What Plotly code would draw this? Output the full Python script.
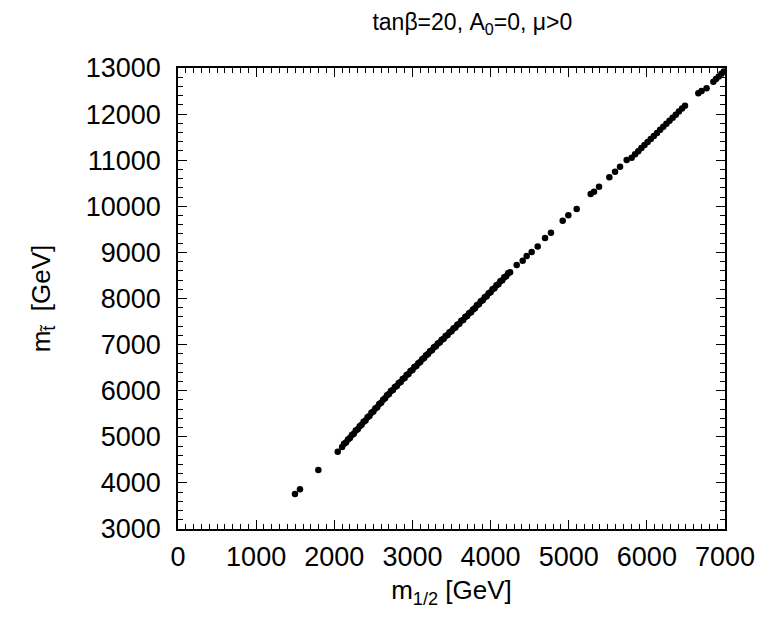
import plotly.graph_objects as go

# isolated low-mass points
x_low = [1497, 1561, 1796, 2044]
y_low = [3759, 3861, 4280, 4677]

# dense band
x_dense = [2100, 2150, 2200, 2250, 2300, 2350, 2400, 2450, 2500, 2550, 2600, 2650, 2700,
           2750, 2800, 2850, 2900, 2950, 3000, 3050, 3100, 3150, 3200, 3250,
           3300, 3350, 3400, 3450, 3500, 3550, 3600, 3650, 3700, 3750,
           3800, 3850, 3900, 3950, 4000, 4050, 4100, 4150, 4200, 4250]
y_dense = [4780, 4876, 4972, 5067, 5163, 5259, 5355, 5451, 5547, 5642, 5738, 5834, 5930,
           6016, 6103, 6189, 6275, 6362, 6448, 6535, 6621, 6707, 6794, 6880,
           6962, 7044, 7126, 7208, 7290, 7372, 7454, 7536, 7618, 7700,
           7787, 7874, 7961, 8048, 8135, 8222, 8309, 8396, 8483, 8570]

# dense band, in-between scan points
x_dense2 = [2125, 2175, 2225, 2275, 2325, 2375, 2425, 2475, 2525, 2575, 2625, 2675,
            2725, 2775, 2825, 2875, 2925, 2975, 3025, 3075, 3125, 3175, 3225,
            3275, 3325, 3375, 3425, 3475, 3525, 3575, 3625, 3675, 3725,
            3775, 3825, 3875, 3925, 3975, 4025, 4075, 4125, 4175, 4225]
y_dense2 = [4848, 4944, 5040, 5135, 5231, 5327, 5423, 5519, 5615, 5710, 5806, 5902,
            5993, 6080, 6166, 6252, 6339, 6425, 6512, 6598, 6684, 6771, 6857,
            6941, 7023, 7105, 7187, 7269, 7351, 7433, 7515, 7597, 7679,
            7764, 7851, 7938, 8025, 8112, 8199, 8286, 8373, 8460, 8547]

# sparse mid points
x_mid = [4334, 4411, 4462, 4526, 4603, 4697, 4773, 4923, 4995, 5102, 5281, 5324, 5388,
         5520, 5593, 5657, 5742, 5806, 5849]
y_mid = [8727, 8820, 8922, 9009, 9130, 9310, 9428, 9688, 9805, 9941, 10267, 10317, 10426,
         10629, 10751, 10859, 11004, 11054, 11128]

# upper band
x_high = [5890, 5930, 5970, 6010, 6050, 6090, 6130, 6170, 6210, 6250, 6290, 6330, 6370,
          6410, 6450, 6488, 6659, 6700, 6764, 6851, 6885, 6920, 6955, 6985, 7013]
y_high = [11196, 11262, 11328, 11394, 11460, 11526, 11592, 11658, 11724, 11790, 11856, 11922, 11988,
          12054, 12120, 12182, 12451, 12500, 12560, 12703, 12760, 12815, 12875, 12925, 12972]

x_all = x_low + x_dense + x_dense2 + x_mid + x_high
y_all = y_low + y_dense + y_dense2 + y_mid + y_high

FONT = "Liberation Sans"

fig = go.Figure()
fig.add_trace(go.Scatter(x=x_all, y=y_all, mode="markers",
                         marker=dict(size=6.5, color="black", line=dict(width=0)),
                         cliponaxis=False, showlegend=False))

axis_common = dict(showgrid=False, zeroline=False, showline=True, linecolor="black",
                   linewidth=1.5, mirror="allticks", ticks="inside", ticklen=9,
                   tickwidth=1.2, tickcolor="black", tickformat="d",
                   tickfont=dict(family=FONT, size=27, color="black"))

fig.update_xaxes(range=[0, 7000], dtick=1000, tick0=0,
                 minor=dict(dtick=100, ticks="inside", ticklen=5, tickwidth=1, tickcolor="black"),
                 title=dict(text="m<sub>1/2</sub> [GeV]", font=dict(family=FONT, size=26, color="black"),
                            standoff=10),
                 ticklabelstandoff=3,
                 **axis_common)
fig.update_yaxes(range=[3000, 13000], dtick=1000, tick0=3000,
                 minor=dict(dtick=200, ticks="inside", ticklen=5, tickwidth=1, tickcolor="black"),
                 title=dict(text="m<sub>t̃</sub>  [GeV]", font=dict(family=FONT, size=26, color="black"),
                            standoff=28),
                 ticklabelstandoff=10,
                 **axis_common)

fig.update_layout(
    width=768, height=621,
    margin=dict(l=178, r=43, t=68, b=92),
    paper_bgcolor="white", plot_bgcolor="white",
    font=dict(family=FONT, color="black"),
    title=dict(text="tanβ=20, A<sub>0</sub>=0, μ>0", x=0.615, xanchor="center",
               y=0.965, yanchor="middle",
               font=dict(family=FONT, size=23, color="black")),
)

fig.write_html("out.html")
